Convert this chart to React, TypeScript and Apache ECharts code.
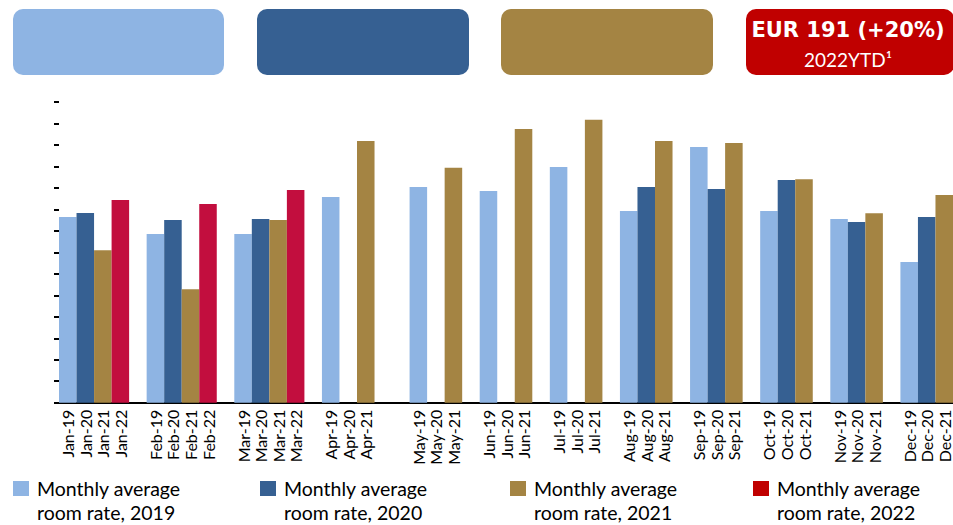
import React, { useEffect, useRef } from "react";
import * as echarts from "echarts";

// ---- Data ----
const months = ["Jan", "Feb", "Mar", "Apr", "May", "Jun", "Jul", "Aug", "Sep", "Oct", "Nov", "Dec"];
// years labelled in each month's group
const monthYears = [
  ["19", "20", "21", "22"],
  ["19", "20", "21", "22"],
  ["19", "20", "21", "22"],
  ["19", "20", "21"],
  ["19", "20", "21"],
  ["19", "20", "21"],
  ["19", "20", "21"],
  ["19", "20", "21"],
  ["19", "20", "21"],
  ["19", "20", "21"],
  ["19", "20", "21"],
  ["19", "20", "21"],
];
// empty slots after each month's group
const gapAfter = [1, 1, 1, 2, 1, 1, 1, 1, 1, 1, 1, 0];

const rate2019 = [172.9, 157.1, 157.1, 191.5, 200.9, 197.1, 219.5, 178.5, 238.1, 178.5, 171.1, 131.0];
const rate2020 = [176.6, 170.1, 171.1, null, null, null, null, 200.9, 199.0, 207.4, 168.3, 172.9];
const rate2021 = [141.9, 105.6, 170.1, 243.7, 218.8, 254.9, 263.5, 243.7, 241.8, 208.0, 176.3, 193.4];
const rate2022 = [188.8, 185.0, 198.1, null, null, null, null, null, null, null, null, null];

const seriesNames = [
  "Monthly average room rate, 2019",
  "Monthly average room rate, 2020",
  "Monthly average room rate, 2021",
  "Monthly average room rate, 2022",
];
const yearCodes = ["19", "20", "21", "22"];
const seriesValues = [rate2019, rate2020, rate2021, rate2022];
const barColors = ["#8EB4E3", "#366092", "#A48443", "#C20E3E"];
const legendColors = ["#8EB4E3", "#366092", "#A48443", "#C00000"];

const headlineValue = "EUR 191 (+20%)";
const headlineSub = "2022YTD¹";

export default function App() {
  const ref = useRef<HTMLDivElement>(null);

  useEffect(() => {
    if (!ref.current) return;
    const chart = echarts.init(ref.current, null, { renderer: "svg" });

    // Build slot-based category axis
    const labels: string[] = [];
    const seriesData: (number | null)[][] = [[], [], [], []];
    months.forEach((m, mi) => {
      monthYears[mi].forEach((yy) => {
        labels.push(`${m}-${yy}`);
        const si = yearCodes.indexOf(yy);
        for (let s = 0; s < 4; s++) {
          seriesData[s].push(s === si ? seriesValues[s][mi] : null);
        }
      });
      for (let g = 0; g < gapAfter[mi]; g++) {
        labels.push("");
        for (let s = 0; s < 4; s++) seriesData[s].push(null);
      }
    });

    const slotWidth = 17.62;
    const legendLefts = [13, 260, 510, 753];
    const boxes = [
      { x: 13, w: 211 },
      { x: 257, w: 212 },
      { x: 501, w: 212 },
      { x: 746, w: 208 },
    ];

    chart.setOption({
      animation: false,
      grid: {
        left: 59,
        top: 102,
        width: slotWidth * labels.length,
        bottom: 122.3,
        containLabel: false,
      },
      xAxis: {
        type: "category",
        data: labels,
        axisTick: { show: false },
        axisLine: { lineStyle: { color: "#000", width: 2 } },
        axisLabel: {
          rotate: 90,
          interval: 0,
          fontFamily: "Lato",
          fontSize: 16,
          color: "#000",
          margin: 7,
        },
      },
      yAxis: {
        type: "value",
        min: 0,
        max: 280,
        interval: 20,
        axisLabel: { show: false },
        splitLine: { show: false },
        axisLine: { show: false },
        axisTick: { show: true, length: 5, lineStyle: { color: "#000", width: 2 } },
      },
      legend: seriesNames.map((n, i) => ({
        data: [{ name: n, itemStyle: { color: legendColors[i] } }],
        left: legendLefts[i],
        top: 452.5,
        padding: 0,
        itemWidth: 16,
        itemHeight: 15,
        icon: "rect",
        selectedMode: false,
        formatter: (name: string) => "\n" + name.replace(" room", "\nroom"),
        textStyle: {
          fontFamily: "Lato",
          fontSize: 19.5,
          lineHeight: 24,
          color: "#000",
          padding: [0, 0, 0, 3],
        },
      })),
      series: seriesNames.map((n, i) => ({
        name: n,
        type: "bar",
        stack: "all",
        barCategoryGap: "0%",
        data: seriesData[i],
        itemStyle: { color: barColors[i] },
      })),
      graphic: [
        ...boxes.map((b, i) => ({
          type: "rect",
          shape: { x: b.x, y: 9, width: b.w, height: 66, r: 10 },
          style: { fill: legendColors[i] },
        })),
        {
          type: "text",
          x: 848,
          y: 30,
          style: {
            text: headlineValue,
            fill: "#fff",
            font: "bold 21px 'DejaVu Sans'",
            align: "center",
            verticalAlign: "middle",
          },
        },
        {
          type: "text",
          x: 848,
          y: 59,
          style: {
            text: headlineSub,
            fill: "#fff",
            font: "19px Lato",
            align: "center",
            verticalAlign: "middle",
          },
        },
      ],
    });

    return () => chart.dispose();
  }, []);

  return (
    <div
      ref={ref}
      style={{ position: "fixed", left: 0, top: 0, width: 953, height: 525, background: "#fff" }}
    />
  );
}
